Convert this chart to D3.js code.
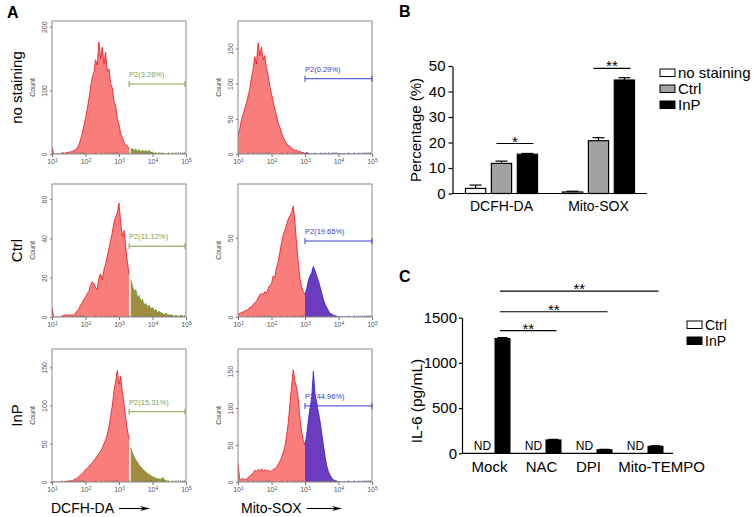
<!DOCTYPE html>
<html><head><meta charset="utf-8">
<script src="https://cdn.jsdelivr.net/npm/d3@7"></script>
<style>
body{margin:0;background:#fff;}
svg{display:block;font-family:"Liberation Sans",Arial,Helvetica,sans-serif;}
</style>
</head><body>
<svg id="fig" width="753" height="517"></svg>
<script>
// ---------------- DATA ----------------
// Panel A: flow histograms, counts per log10 bin (bins from 10^1 to 10^5, step 0.05 decade)
const histNoStainDCFH = [12,0,0,0,0,0,1,2,1,3, 2,4,3,6,5,10,14,22,32,44, 56,70,86,104,120,128,148,140,176,150, 168,142,160,130,134,110,104,82,76,56, 46,32,26,18,14,13,8,6,9,5, 8,4,7,3,6,4,5,3,6,2, 3,1,2,0,2,1,0,0,0,0, 0,0,0,0,0,0,0,0,0,0, 0];
const histNoStainMito = [26,35,48,56,64,72,82,92,108,120, 138,128,158,140,152,134,140,122,112,96, 86,74,64,54,44,38,30,24,19,15, 12,11,8,7,5,6,3,4,2,2, 1,2,1,0,0,0,0,0,0,0, 0,0,0,0,0,0,0,0,0,0, 0,0,0,0,0,0,0,0,0,0, 0,0,0,0,0,0,0,0,0,0, 0];
const histCtrlDCFH = [5,0,0,0,0,0,0,1,1,1, 1,1,1,1,2,3,4,6,7,9, 10,12,13,16,18,17,15,14,20,22, 19,24,27,31,35,39,43,48,51,53, 58,48,41,44,36,28,22,19,16,13, 14,10,11,8,9,6,7,5,6,4, 5,3,4,2,3,2,2,1,2,1, 1,1,1,0,1,0,0,1,0,0, 0];
const histCtrlMito = [2,2,3,3,4,4,5,6,6,8, 9,10,12,14,15,14,16,15,18,20, 21,26,25,31,35,41,47,52,55,58, 62,64,66,70,60,46,34,24,19,16, 14,18,23,26,28,32,29,26,23,19, 15,11,8,6,4,2,2,1,1,0, 0,0,0,0,0,0,0,0,0,0, 0,0,0,0,0,0,0,0,0,0, 0];
const histInPDCFH = [0,0,0,0,0,0,0,0,1,0, 1,2,1,3,4,5,7,9,11,13, 16,18,20,23,25,28,31,34,37,40, 44,50,55,62,72,86,100,118,132,146, 128,138,118,102,84,68,56,45,38,33, 29,26,22,20,17,15,13,11,10,8, 7,6,5,4,4,3,6,3,2,1, 0,0,0,0,0,0,0,0,0,0, 0];
const histInPMito = [26,4,3,5,3,4,6,8,10,12, 16,14,17,15,18,14,17,15,16,14, 15,17,18,20,24,28,33,40,48,62, 80,106,130,152,136,128,112,86,68,56, 50,64,84,100,114,150,118,108,94,82, 66,50,34,22,14,9,5,3,2,1, 0,0,0,0,0,0,0,0,0,0, 0,0,0,0,0,0,0,0,0,0, 0];
const histYMax = [209, 189, 67.7, 84, 174, 180];
const histYTicks = [[0,100,200],[0,50,100,150],[0,20,40,60],[0,50],[0,50,100,150],[0,50,100,150]];
const histGateStart = [2000, 1000, 2000, 1000, 2000, 1000];
const histGateEnd = [93000, 100000, 93000, 100000, 93000, 100000];
const histGateCount = [110, 107, 36, 48, 92, 103];
const histGateLabels = ["P2(3.26%)","P2(0.29%)","P2(11.12%)","P2(19.65%)","P2(15.31%)","P2(44.96%)"];
const histXTicks = [10, 100, 1000, 10000, 100000];
const rowLabels = ["no staining","Ctrl","InP"];
const colLabels = ["DCFH-DA","Mito-SOX"];

// Panel B
const bCategories = ["DCFH-DA","Mito-SOX"];
const bSeries = ["no staining","Ctrl","InP"];
const bNoStain = [2.0, 0.6];
const bNoStainErr = [1.3, 0.3];
const bCtrl = [11.8, 20.7];
const bCtrlErr = [0.9, 1.2];
const bInP = [15.4, 44.5];
const bInPErr = [0.3, 0.9];
const bTicks = [0,10,20,30,40,50];
const bSig = [{cat:"DCFH-DA", level:19.6, text:"*"},{cat:"Mito-SOX", level:49.1, text:"**"}];

// Panel C
const cCategories = ["Mock","NAC","DPI","Mito-TEMPO"];
const cSeries = ["Ctrl","InP"];
const cCtrl = [0,0,0,0];          // ND
const cInP = [1270, 148, 40, 78];
const cInPErr = [10, 6, 4, 5];
const cTicks = [0,500,1000,1500];
const cSig = [{to:"NAC", level:1356},{to:"DPI", level:1566},{to:"Mito-TEMPO", level:1795}];

// ---------------- DRAW ----------------
const svg = d3.select("#fig");
const binLogs = d3.range(histNoStainDCFH.length).map(i => 1 + 0.05*i);
const histData = [histNoStainDCFH, histNoStainMito, histCtrlDCFH, histCtrlMito, histInPDCFH, histInPMito];
const colX = [52, 238], rowY = [21, 184, 349], PW = 134, PH = 133;
const redFill = "#f87d7b", redLine = "#e8141c";
const greenFill = "#a08c3e", greenLine = "#5e9e1e", greenGate = "#7f9f4f";
const blueFill = "#6c3cbf", blueLine = "#2323dc", blueGate = "#3c3cc8";

histData.forEach((vals, k) => {
  const col = k % 2, row = Math.floor(k / 2);
  const x0 = colX[col], y0 = rowY[row];
  const isMito = col === 1;
  const x = d3.scaleLog().domain([10, 1e5]).range([x0, x0 + PW]);
  const y = d3.scaleLinear().domain([0, histYMax[k]]).range([y0 + PH, y0]);
  const g = svg.append("g");
  const clipId = "clip" + k;
  g.append("clipPath").attr("id", clipId).append("rect")
    .attr("x", x0).attr("y", y0).attr("width", PW).attr("height", PH);
  const pts = vals.map((c, i) => ({v: Math.pow(10, binLogs[i]), c: c, l: binLogs[i]}));
  const gl = Math.log10(histGateStart[k]);
  const redPts = pts.filter(p => p.l <= gl + 1e-9);
  const gatePts = pts.filter(p => p.l >= gl - 1e-9);
  const area = d3.area().x(d => x(d.v)).y0(y(0)).y1(d => y(d.c));
  const line = d3.line().x(d => x(d.v)).y(d => y(d.c));
  const pg = g.append("g").attr("clip-path", `url(#${clipId})`);
  pg.append("path").datum(redPts).attr("d", area).attr("fill", redFill);
  pg.append("path").datum(redPts).attr("d", line).attr("fill", "none").attr("stroke", redLine).attr("stroke-width", 0.8);
  pg.append("path").datum(gatePts).attr("d", area).attr("fill", isMito ? blueFill : greenFill);
  pg.append("path").datum(gatePts).attr("d", line).attr("fill", "none").attr("stroke", isMito ? blueLine : greenLine).attr("stroke-width", 0.8);

  // frame
  g.append("rect").attr("x", x0).attr("y", y0).attr("width", PW).attr("height", PH)
    .attr("fill", "none").attr("stroke", "#8a8a8a").attr("stroke-width", 1);

  // x axis
  const xa = g.append("g").attr("transform", `translate(0,${y0 + PH})`)
    .call(d3.axisBottom(x).tickValues(histXTicks).tickSize(3).tickPadding(2));
  xa.select(".domain").remove();
  xa.selectAll(".tick line").attr("stroke", "#777");
  xa.selectAll(".tick text").attr("font-size", 7).attr("fill", "#555").text(null)
    .each(function(d) {
      const t = d3.select(this);
      t.append("tspan").text("10");
      t.append("tspan").attr("dy", "-0.45em").attr("font-size", 5).text(Math.round(Math.log10(d)));
    });
  // minor ticks
  const minors = [];
  for (let e = 1; e < 5; e++) for (let m = 2; m <= 9; m++) minors.push(m * Math.pow(10, e));
  g.append("g").selectAll("line").data(minors).join("line")
    .attr("x1", d => x(d)).attr("x2", d => x(d))
    .attr("y1", y0 + PH).attr("y2", y0 + PH - 2)
    .attr("stroke", "#777").attr("stroke-width", 0.7);

  // y axis
  const ya = g.append("g").attr("transform", `translate(${x0},0)`)
    .call(d3.axisLeft(y).tickValues(histYTicks[k]).tickSize(2));
  ya.select(".domain").remove();
  ya.selectAll(".tick line").attr("stroke", "#777");
  ya.selectAll(".tick text").attr("font-size", 7).attr("fill", "#555")
    .attr("transform", "rotate(-90)").attr("x", 0).attr("y", -5).attr("dy", 0)
    .attr("text-anchor", "middle");
  g.append("text").attr("transform", `translate(${x0 - 17},${y0 + PH / 2}) rotate(-90)`)
    .attr("text-anchor", "middle").attr("font-size", 7).attr("fill", "#444").text("Count");

  // gate
  const gc = isMito ? blueGate : greenGate;
  const gy = y(histGateCount[k]);
  const gx1 = x(histGateStart[k]), gx2 = x(histGateEnd[k]);
  g.append("line").attr("x1", gx1).attr("x2", gx2).attr("y1", gy).attr("y2", gy).attr("stroke", gc).attr("stroke-width", 1);
  g.append("line").attr("x1", gx1).attr("x2", gx1).attr("y1", gy - 3).attr("y2", gy + 3).attr("stroke", gc).attr("stroke-width", 1);
  g.append("line").attr("x1", gx2).attr("x2", gx2).attr("y1", gy - 3).attr("y2", gy + 3).attr("stroke", gc).attr("stroke-width", 1);
  g.append("text").attr("x", gx1).attr("y", gy - 7).attr("font-size", 7.5).attr("fill", gc).text(histGateLabels[k]);
});

// row labels
rowLabels.forEach((t, r) => {
  svg.append("text").attr("transform", `translate(22,${rowY[r] + PH / 2}) rotate(-90)`)
    .attr("text-anchor", "middle").attr("font-size", 15).attr("fill", "#000").text(t);
});
// column titles with arrows
const colTitleX = [51, 241], arrowEnd = [150, 342];
colLabels.forEach((t, c) => {
  const tx = svg.append("text").attr("x", colTitleX[c]).attr("y", 513).attr("font-size", 14).attr("fill", "#000").text(t);
  const w = tx.node().getComputedTextLength();
  const ax1 = colTitleX[c] + w + 5, ax2 = arrowEnd[c], ay = 508.5;
  svg.append("line").attr("x1", ax1).attr("x2", ax2 - 5).attr("y1", ay).attr("y2", ay).attr("stroke", "#000").attr("stroke-width", 1.1);
  svg.append("path").attr("d", `M${ax2},${ay} L${ax2 - 10},${ay - 2.6} L${ax2 - 7},${ay} L${ax2 - 10},${ay + 2.6} Z`).attr("fill", "#000");
});

// panel letters
svg.append("text").attr("x", 7).attr("y", 18).attr("font-size", 16).attr("font-weight", "bold").text("A");
svg.append("text").attr("x", 399).attr("y", 17).attr("font-size", 16).attr("font-weight", "bold").text("B");
svg.append("text").attr("x", 399).attr("y", 282).attr("font-size", 16).attr("font-weight", "bold").text("C");

// ---------------- Panel B ----------------
(function() {
  const g = svg.append("g");
  const y = d3.scaleLinear().domain([0, 50]).range([193.5, 66]);
  const x0 = d3.scaleBand().domain(bCategories).range([453, 647]);
  const x1 = d3.scaleBand().domain(bSeries).range([-36, 36]).paddingInner(0.22);
  const vals = {"no staining": bNoStain, "Ctrl": bCtrl, "InP": bInP};
  const errs = {"no staining": bNoStainErr, "Ctrl": bCtrlErr, "InP": bInPErr};
  const fills = {"no staining": "#ffffff", "Ctrl": "#a2a2a2", "InP": "#000000"};
  bCategories.forEach((c, ci) => {
    const cx = x0(c) + x0.bandwidth() / 2;
    bSeries.forEach(s => {
      const v = vals[s][ci], e = errs[s][ci];
      const bx = cx + x1(s), bw = x1.bandwidth();
      g.append("line").attr("x1", bx + bw / 2).attr("x2", bx + bw / 2).attr("y1", y(v)).attr("y2", y(v + e)).attr("stroke", "#000").attr("stroke-width", 1.2);
      g.append("line").attr("x1", bx + bw / 2 - 6).attr("x2", bx + bw / 2 + 6).attr("y1", y(v + e)).attr("y2", y(v + e)).attr("stroke", "#000").attr("stroke-width", 1.2);
      g.append("rect").attr("x", bx).attr("y", y(v)).attr("width", bw).attr("height", y(0) - y(v))
        .attr("fill", fills[s]).attr("stroke", "#000").attr("stroke-width", 1.2);
    });
  });
  const ya = g.append("g").attr("transform", "translate(452.5,0)")
    .call(d3.axisLeft(y).tickValues(bTicks).tickSize(4).tickSizeOuter(0).tickPadding(3));
  ya.selectAll("text").attr("font-size", 15).attr("fill", "#000");
  ya.selectAll("line,path").attr("stroke", "#000").attr("stroke-width", 1.2);
  const xa = g.append("g").attr("transform", "translate(0,193.5)")
    .call(d3.axisBottom(x0).tickSize(0).tickSizeOuter(0).tickPadding(7.5));
  xa.select(".domain").attr("stroke", "#000").attr("stroke-width", 1.2).attr("d", "M452.5,0H647");
  xa.selectAll("text").attr("font-size", 14).attr("fill", "#000");
  g.append("text").attr("transform", "translate(421,130) rotate(-90)").attr("text-anchor", "middle")
    .attr("font-size", 15).text("Percentage (%)");
  bSig.forEach(s => {
    const cx = x0(s.cat) + x0.bandwidth() / 2;
    const xa1 = cx + x1("Ctrl") + x1.bandwidth() / 2 - 5;
    const xa2 = cx + x1("InP") + x1.bandwidth() / 2 + 6;
    const ly = y(s.level);
    g.append("line").attr("x1", xa1).attr("x2", xa2).attr("y1", ly).attr("y2", ly).attr("stroke", "#000").attr("stroke-width", 1.2);
    g.append("text").attr("x", (xa1 + xa2) / 2).attr("y", ly + 3).attr("text-anchor", "middle").attr("font-size", 15).text(s.text);
  });
  // legend
  bSeries.forEach((s, i) => {
    const ly = 69 + i * 16;
    g.append("rect").attr("x", 660).attr("y", ly).attr("width", 15).attr("height", 7.5)
      .attr("fill", fills[s]).attr("stroke", "#000").attr("stroke-width", 1);
    g.append("text").attr("x", 678).attr("y", ly + 9).attr("font-size", 15).text(s);
  });
})();

// ---------------- Panel C ----------------
(function() {
  const g = svg.append("g");
  const y = d3.scaleLinear().domain([0, 1500]).range([453.3, 317.7]);
  const x0 = d3.scaleBand().domain(cCategories).range([467, 671]);
  const x1 = d3.scaleBand().domain(cSeries).range([-17.5, 17.5]).paddingInner(0.25);
  const fills = {"Ctrl": "#ffffff", "InP": "#000000"};
  cCategories.forEach((c, ci) => {
    const cx = x0(c) + x0.bandwidth() / 2;
    // Ctrl: not detected
    const ctrlX = cx + x1("Ctrl") + x1.bandwidth() / 2;
    if (cCtrl[ci] === 0) {
      g.append("text").attr("x", ctrlX).attr("y", 450).attr("text-anchor", "middle").attr("font-size", 12).text("ND");
    }
    const v = cInP[ci], e = cInPErr[ci];
    const bx = cx + x1("InP"), bw = x1.bandwidth();
    g.append("line").attr("x1", bx + bw / 2).attr("x2", bx + bw / 2).attr("y1", y(v)).attr("y2", y(v + e)).attr("stroke", "#000").attr("stroke-width", 1.2);
    g.append("line").attr("x1", bx + bw / 2 - 5).attr("x2", bx + bw / 2 + 5).attr("y1", y(v + e)).attr("y2", y(v + e)).attr("stroke", "#000").attr("stroke-width", 1.2);
    g.append("rect").attr("x", bx).attr("y", y(v)).attr("width", bw).attr("height", y(0) - y(v))
      .attr("fill", fills["InP"]).attr("stroke", "#000").attr("stroke-width", 1);
  });
  const ya = g.append("g").attr("transform", "translate(462,0)")
    .call(d3.axisLeft(y).tickValues(cTicks).tickFormat(d3.format("d")).tickSize(3).tickSizeOuter(0).tickPadding(2));
  ya.selectAll("text").attr("font-size", 15).attr("fill", "#000");
  ya.selectAll("line,path").attr("stroke", "#000").attr("stroke-width", 1.2);
  const labelShift = [-3, -2, -6, 16];
  const xa = g.append("g").attr("transform", "translate(0,453.3)")
    .call(d3.axisBottom(x0).tickSize(0).tickSizeOuter(0).tickPadding(7.7));
  xa.select(".domain").attr("stroke", "#000").attr("stroke-width", 1.2).attr("d", "M462,0H673");
  xa.selectAll("text").attr("font-size", 15).attr("fill", "#000").attr("dx", (d, i) => labelShift[i]);
  g.append("text").attr("transform", "translate(422,401) rotate(-90)").attr("text-anchor", "middle")
    .attr("font-size", 15.5).text("IL-6 (pg/mL)");
  const startX = x0("Mock") + x0.bandwidth() / 2 + x1("InP") + x1.bandwidth() / 2 - 2.5;
  cSig.forEach(s => {
    const endX = x0(s.to) + x0.bandwidth() / 2 + x1("InP") + x1.bandwidth() / 2 + 3;
    const ly = y(s.level);
    g.append("line").attr("x1", startX).attr("x2", endX).attr("y1", ly).attr("y2", ly).attr("stroke", "#000").attr("stroke-width", 1.2);
    g.append("text").attr("x", (startX + endX) / 2).attr("y", ly + 3).attr("text-anchor", "middle").attr("font-size", 15).text("**");
  });
  cSeries.forEach((s, i) => {
    const ly = 321 + i * 16;
    g.append("rect").attr("x", 687).attr("y", ly).attr("width", 15).attr("height", 7.5)
      .attr("fill", fills[s]).attr("stroke", "#000").attr("stroke-width", 1);
    g.append("text").attr("x", 705).attr("y", ly + 8.5).attr("font-size", 14).text(s);
  });
})();
</script>
</body></html>
